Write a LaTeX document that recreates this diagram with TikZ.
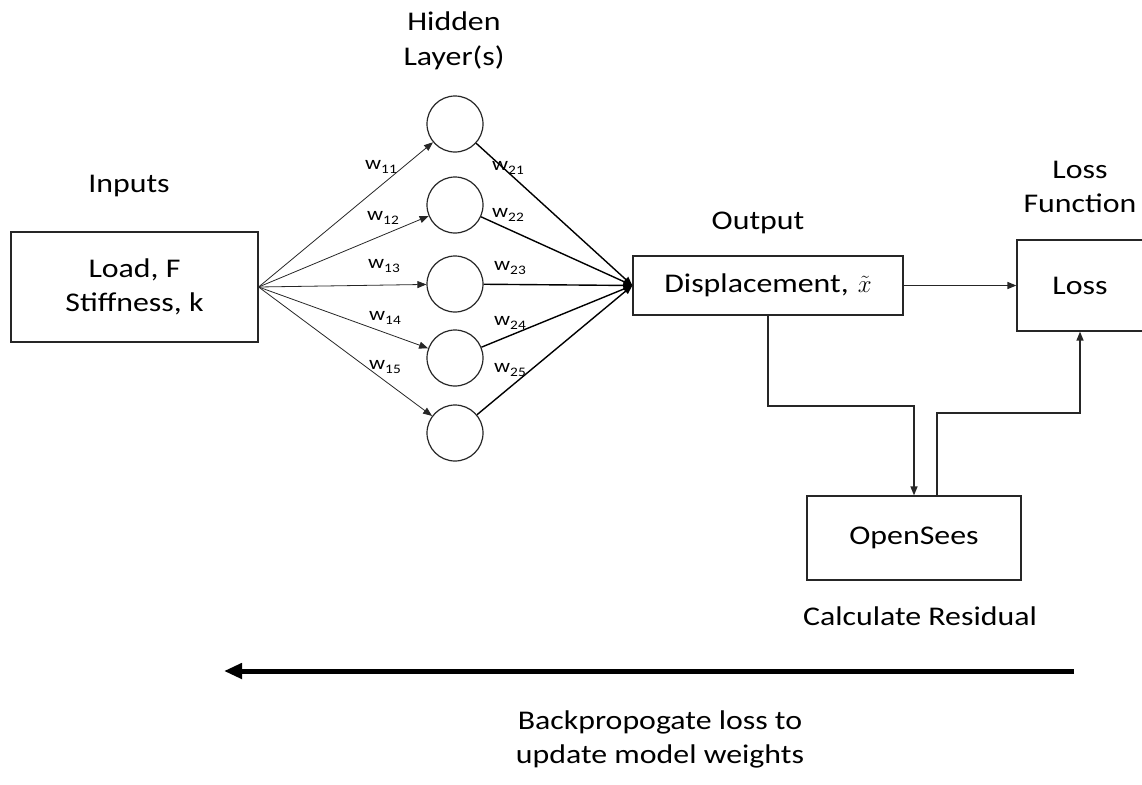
\documentclass[tikz,border=0pt]{standalone}
\usepackage{fontspec}
\setmainfont{Carlito}[FakeStretch=1.18]
\usetikzlibrary{arrows.meta}
\begin{document}
\begin{tikzpicture}[x=1pt,y=-1pt,
  lbl/.style={font=\fontsize{27}{34}\selectfont, align=center, inner sep=0pt},
  box/.style={draw=black!85, line width=1.2pt, inner sep=0pt, font=\fontsize{27}{34}\selectfont, align=center},
  neuron/.style={draw=black!85, line width=1.2pt, circle, minimum size=56pt, inner sep=0pt},
  wgt/.style={inner sep=0pt, font=\fontsize{19}{19}\selectfont},
  inw/.style={draw=black!85, line width=0.8pt, -{Triangle[length=9pt,width=7pt]}},
  outw/.style={draw=black, line width=1.4pt, -{Triangle[length=9pt,width=7pt]}},
  conn/.style={draw=black!85, line width=1.4pt, -{Triangle[length=9pt,width=7pt]}},
  back/.style={draw=black, line width=5pt, -{Triangle[length=18pt,width=15pt]}}]
\useasboundingbox (0,0) rectangle (1142,784);
\newcommand{\wlab}[2]{w\raisebox{-4pt}{\fontsize{13}{13}\selectfont #1#2}}

% input block
\node[lbl, anchor=base] (inlbl) at (129,192) {Inputs};
\node[box, minimum width=247pt, minimum height=110pt] (in) at (134.5,287) {Load, F\\Stiffness, k};

% hidden layer (base anchor sits on the last line)
\node[lbl, anchor=base] (hidlbl) at (454,65) {Hidden\\Layer(s)};
\node[neuron] (h1) at (455,124) {};
\node[neuron] (h2) at (455,205) {};
\node[neuron] (h3) at (455,284) {};
\node[neuron] (h4) at (455,358) {};
\node[neuron] (h5) at (455,433) {};

% output block
\node[lbl, anchor=base] (outlbl) at (758,229) {Output};
\node[box, minimum width=270pt, minimum height=59pt] (out) at (768,285.5) {Displacement,\,\,$\tilde{x}$};

% loss block
\node[lbl, anchor=base] (losslbl) at (1080,212) {Loss\\Function};
\node[box, minimum width=126pt, minimum height=91pt] (loss) at (1080,285.5) {Loss};

% residual block
\node[box, minimum width=214pt, minimum height=84pt] (os) at (914,538) {OpenSees};
\node[lbl, anchor=base] (reslbl) at (920,625) {Calculate Residual};

% weighted connections
\foreach \i in {1,...,5} {
  \draw[inw] (in.east) -- (h\i);
  \draw[outw] (h\i) -- (out.west);
}
\node[wgt] (w11) at (381,167) {\wlab{1}{1}};
\node[wgt] (w12) at (383,218) {\wlab{1}{2}};
\node[wgt] (w13) at (384,266) {\wlab{1}{3}};
\node[wgt] (w14) at (385,318) {\wlab{1}{4}};
\node[wgt] (w15) at (385,367) {\wlab{1}{5}};
\node[wgt] (w21) at (508,168) {\wlab{2}{1}};
\node[wgt] (w22) at (508,215) {\wlab{2}{2}};
\node[wgt] (w23) at (510,268) {\wlab{2}{3}};
\node[wgt] (w24) at (510,323) {\wlab{2}{4}};
\node[wgt] (w25) at (510,370) {\wlab{2}{5}};

% output to loss and residual loop
\draw[conn] (out.east) -- (loss.west);
\coordinate (c1) at (914,406);
\coordinate (c2) at (1080,413);
\draw[conn] (out.south) |- (c1) -- (os.north);
\draw[conn] ([xshift=23pt]os.north) |- (c2) -- (loss.south);

% backpropagation arrow
\coordinate (bpR) at (1074,671);
\coordinate (bpL) at (224,671);
\draw[back] (bpR) -- (bpL);
\node[lbl, anchor=base] (bplbl) at (660,763) {Backpropogate loss to\\update model weights};
\end{tikzpicture}
\end{document}
